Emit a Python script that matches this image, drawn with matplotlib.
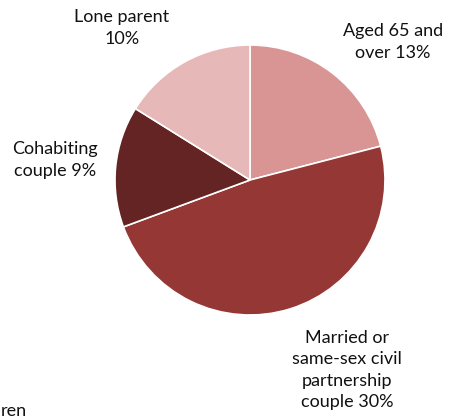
import matplotlib.pyplot as plt

labels = ["Aged 65 and\nover 13%", "Married or\nsame-sex civil\npartnership\ncouple 30%",
          "Cohabiting\ncouple 9%", "Lone parent\n10%"]
values = [13, 30, 9, 10]
colors = ["#d99594", "#953735", "#632423", "#e6b9b8"]

# label centres in pixels (x, y from top)
label_pos = [(393, 42), (347, 370), (55, 160), (122, 28)]

plt.rcParams['font.family'] = ['Lato', 'DejaVu Sans']

fig = plt.figure(figsize=(4.54, 4.19), dpi=100)
ax = fig.add_axes([0, 0, 1, 1])
ax.set_xlim(0, 454)
ax.set_ylim(0, 419)
ax.set_aspect('equal')
ax.axis('off')

ax.pie(values, colors=colors, startangle=90, counterclock=False,
       center=(250, 419 - 180), radius=135,
       wedgeprops=dict(edgecolor='white', linewidth=1.2))
ax.set_xlim(0, 454)
ax.set_ylim(0, 419)

for lab, (x, y) in zip(labels, label_pos):
    ax.text(x, 419 - y, lab, ha='center', va='center', fontsize=13,
            color='#111111', linespacing=1.4)

# fragment of a neighbouring label, cut off in the source
ax.text(1, 419 - 416, "ren", ha='left', va='baseline', fontsize=13, color='#111111')

fig.savefig("out.png", dpi=100)
